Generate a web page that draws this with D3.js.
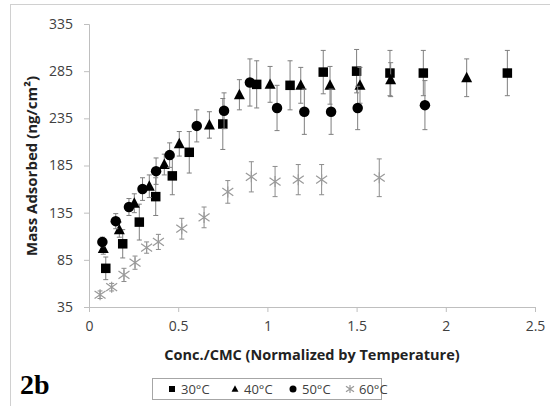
<!DOCTYPE html>
<html>
<head>
<meta charset="utf-8">
<script src="https://cdn.jsdelivr.net/npm/d3@7"></script>
<style>
  body { margin: 0; background: #fff; }
  svg { display: block; }
</style>
</head>
<body>
<div id="chart"></div>
<script>
// data (x = conc/CMC, y = mass adsorbed, e = error bar half-height)
var x30 = [0.094, 0.189, 0.282, 0.374, 0.467, 0.562, 0.75, 0.94, 1.127, 1.313, 1.50, 1.687, 1.874, 2.345];
var y30 = [76, 102, 125, 152, 174, 199, 229, 271, 270, 284, 285, 283, 283, 283];
var e30 = [12, 15, 19, 20, 20, 22, 27, 25, 26, 23, 23, 24, 24, 24];

var x40 = [0.08, 0.17, 0.254, 0.338, 0.422, 0.506, 0.675, 0.843, 1.015, 1.187, 1.351, 1.519, 1.691, 2.117];
var y40 = [97, 117, 145, 163, 186, 208, 228, 260, 271, 270, 270, 270, 276, 278];
var e40 = [6, 8, 10, 12, 11, 13, 14, 16, 19, 19, 20, 19, 18, 20];

var x50 = [0.075, 0.15, 0.224, 0.3, 0.376, 0.452, 0.604, 0.757, 0.902, 1.054, 1.207, 1.357, 1.506, 1.883];
var y50 = [104, 126, 141, 160, 179, 196, 227, 243, 273, 246, 242, 242, 246, 249];
var e50 = [5, 8, 9, 12, 14, 13, 17, 19, 25, 24, 24, 24, 23, 26];

var x60 = [0.062, 0.127, 0.196, 0.258, 0.323, 0.389, 0.52, 0.645, 0.778, 0.91, 1.043, 1.173, 1.304, 1.627];
var y60 = [48, 56, 69, 82, 98, 104, 118, 130, 157, 173, 168, 170, 170, 172];
var e60 = [4, 4, 7, 7, 6, 8, 11, 11, 12, 16, 16, 16, 16, 20];

var seriesNames = ["30\u00B0C", "40\u00B0C", "50\u00B0C", "60\u00B0C"];
var xTicks = [0, 0.5, 1, 1.5, 2, 2.5];
var yTicks = [35, 85, 135, 185, 235, 285, 335];

var W = 550, H = 406;
var svg = d3.select("#chart").append("svg").attr("width", W).attr("height", H);

// outer chart border (only top and left edges fall inside the picture)
svg.append("rect")
    .attr("x", 10.5).attr("y", 4.5)
    .attr("width", 600).attr("height", 500)
    .attr("fill", "none").attr("stroke", "#d0d0d0");

var x = d3.scaleLinear().domain([0, 2.5]).range([89, 535]);
var y = d3.scaleLinear().domain([35, 335]).range([307, 24]);

var tickFont = "'Open Sans', sans-serif";

//axes
var xAxis = svg.append("g")
    .attr("transform", "translate(0,307)")
    .call(d3.axisBottom(x).tickValues(xTicks).tickSize(5).tickPadding(9)
        .tickFormat(function(d) { return d; }));
var yAxis = svg.append("g")
    .attr("transform", "translate(89,0)")
    .call(d3.axisLeft(y).tickValues(yTicks).tickSize(5).tickPadding(11));

[xAxis, yAxis].forEach(function(a) {
    a.select(".domain").attr("stroke", "#bfbfbf");
    a.selectAll(".tick line").attr("stroke", "#bfbfbf");
    a.selectAll(".tick text")
        .attr("fill", "#404040")
        .style("font-family", tickFont)
        .style("font-size", "14px");
});

// axis titles
svg.append("text")
    .attr("x", 312).attr("y", 360)
    .attr("text-anchor", "middle")
    .style("font-family", tickFont).style("font-weight", "bold").style("font-size", "14.5px")
    .attr("fill", "#222")
    .text("Conc./CMC (Normalized by Temperature)");

svg.append("text")
    .attr("transform", "translate(37,166) rotate(-90)")
    .attr("text-anchor", "middle")
    .style("font-family", tickFont).style("font-weight", "bold").style("font-size", "15px")
    .attr("fill", "#222")
    .text("Mass Adsorbed (ng/cm\u00B2)");

svg.append("text")
    .attr("x", 20).attr("y", 394)
    .style("font-family", "'Liberation Serif', serif").style("font-weight", "bold").style("font-size", "28px")
    .attr("fill", "#000")
    .text("2b");

// marker drawing
function drawMarker(g, kind, cx, cy, s) {
    if (kind === 0) {
        g.append("rect").attr("x", cx - s / 2).attr("y", cy - s / 2)
            .attr("width", s).attr("height", s).attr("fill", "#000");
    } else if (kind === 1) {
        var h = s * 1.05;
        g.append("path")
            .attr("d", `M${cx},${cy - h * 0.6}L${cx + h * 0.55},${cy + h * 0.45}L${cx - h * 0.55},${cy + h * 0.45}Z`)
            .attr("fill", "#000");
    } else if (kind === 2) {
        g.append("circle").attr("cx", cx).attr("cy", cy).attr("r", s / 2 + 0.5).attr("fill", "#000");
    } else {
        var r = s / 2 + 0.5;
        g.append("path")
            .attr("d", `M${cx - r},${cy - r * 0.7}L${cx + r},${cy + r * 0.7}M${cx - r},${cy + r * 0.7}L${cx + r},${cy - r * 0.7}M${cx},${cy - r}L${cx},${cy + r}`)
            .attr("stroke", "#9a9a9a").attr("stroke-width", 1.2).attr("fill", "none");
    }
}

var allX = [x30, x40, x50, x60];
var allY = [y30, y40, y50, y60];
var allE = [e30, e40, e50, e60];

var plot = svg.append("g");
for (var s = 0; s < 4; s++) {
    var g = plot.append("g");
    var pts = allX[s].map(function(v, i) { return { x: v, y: allY[s][i], e: allE[s][i] }; });
    var barColor = s === 3 ? "#8c8c8c" : "#7f7f7f";

    //error bars
    g.selectAll(".eb").data(pts).enter().append("path")
        .attr("d", function(d) {
            var px = x(d.x), top = y(d.y + d.e), bot = y(d.y - d.e);
            return `M${px},${top}L${px},${bot}M${px - 2.5},${top}L${px + 2.5},${top}M${px - 2.5},${bot}L${px + 2.5},${bot}`;
        })
        .attr("stroke", barColor).attr("stroke-width", 1).attr("fill", "none");

    pts.forEach(function(d) {
        drawMarker(g, s, x(d.x), y(d.y), s === 3 ? 10 : 9.5);
    });
}

// legend
var leg = svg.append("g");
leg.append("rect")
    .attr("x", 152.5).attr("y", 378.5).attr("width", 229).attr("height", 21)
    .attr("fill", "#fff").attr("stroke", "#a6a6a6");
var legX = [172, 235, 293, 350];
for (var k = 0; k < 4; k++) {
    drawMarker(leg, k, legX[k], 389, k === 3 ? 7 : 6);
    leg.append("text")
        .attr("x", legX[k] + 9).attr("y", 394)
        .style("font-family", tickFont).style("font-size", "13px")
        .attr("fill", "#404040")
        .text(seriesNames[k]);
}
</script>
</body>
</html>
